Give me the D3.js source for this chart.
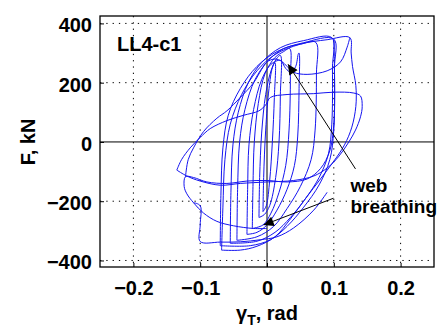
<!DOCTYPE html>
<html>
<head>
<meta charset="utf-8">
<script src="https://cdn.jsdelivr.net/npm/d3@7"></script>
<style>
  body { margin: 0; background: #fff; }
  text { font-family: "Liberation Sans", Arial, sans-serif; }
</style>
</head>
<body>
<svg id="chart" width="441" height="327"></svg>
<script>
// tick values
const xTicks = [-0.2, -0.1, 0, 0.1, 0.2];
const yTicks = [-400, -200, 0, 200, 400];

// hysteresis loops, [gammaT (rad), F (kN)]
const loop1 = [[-0.006,-235],[-0.005,-120],[-0.002,40],[0.003,180],[0.008,250],[0.012,268],[0.011,150],[0.008,0],[0.004,-130],[-0.001,-215],[-0.006,-235]];
const loop2 = [[-0.012,-255],[-0.011,-120],[-0.008,30],[-0.002,160],[0.006,240],[0.014,280],[0.02,292],[0.02,160],[0.018,0],[0.013,-120],[0.004,-215],[-0.004,-245],[-0.012,-255]];
const loop3 = [[-0.022,-292],[-0.021,-150],[-0.019,0],[-0.013,130],[-0.003,230],[0.012,285],[0.025,305],[0.034,315],[0.035,220],[0.033,40],[0.028,-80],[0.018,-170],[0.006,-240],[-0.006,-280],[-0.022,-292]];
const loop4 = [[-0.03,-312],[-0.029,-160],[-0.027,-10],[-0.02,110],[-0.008,210],[0.006,262],[0.02,275],[0.028,248],[0.036,235],[0.043,255],[0.047,298],[0.048,300],[0.048,180],[0.046,20],[0.041,-80],[0.03,-160],[0.015,-230],[0,-280],[-0.015,-305],[-0.03,-312]];
const loop5 = [[-0.045,-332],[-0.044,-160],[-0.041,0],[-0.033,110],[-0.018,210],[0.002,275],[0.025,315],[0.05,330],[0.073,336],[0.074,230],[0.072,40],[0.066,-60],[0.05,-150],[0.03,-225],[0.01,-285],[-0.015,-320],[-0.045,-332]];
const loop6 = [[-0.055,-342],[-0.054,-170],[-0.051,-10],[-0.043,100],[-0.028,200],[-0.008,268],[0.02,318],[0.055,342],[0.097,352],[0.098,250],[0.097,60],[0.092,-40],[0.078,-120],[0.058,-190],[0.035,-255],[0.012,-305],[-0.015,-335],[-0.055,-342]];
const loop7 = [[-0.07,-350],[-0.069,-180],[-0.066,-20],[-0.058,90],[-0.04,180],[-0.015,255],[0.015,305],[0.055,335],[0.1,347],[0.101,250],[0.1,40],[0.094,-60],[0.078,-145],[0.055,-220],[0.03,-285],[0.005,-330],[-0.025,-350],[-0.07,-350]];
const loop8 = [[-0.068,-365],[-0.066,-220],[-0.063,-60],[-0.055,60],[-0.038,160],[-0.015,240],[0.012,295],[0.05,330],[0.09,345],[0.124,352],[0.126,300],[0.128,255],[0.133,190],[0.133,120],[0.127,50],[0.116,-10],[0.1,-65],[0.08,-125],[0.058,-190],[0.035,-260],[0.012,-320],[-0.015,-352],[-0.04,-365],[-0.068,-365]];
const loop9 = [[-0.122,-117],[-0.118,-60],[-0.11,-20],[-0.095,35],[-0.075,80],[-0.06,105],[-0.04,150],[-0.02,200],[-0.008,245],[0,270],[0.012,280],[0.022,272],[0.03,255],[0.04,235],[0.06,228],[0.09,240],[0.11,270],[0.12,320],[0.124,352]];
const loop10 = [[-0.135,-95],[-0.128,-60],[-0.115,-20],[-0.1,15],[-0.085,45],[-0.06,72],[-0.035,90],[-0.012,105],[-0.002,125],[0.005,150],[0.03,160],[0.07,163],[0.1,168],[0.13,165],[0.14,155],[0.1425,120],[0.14,85],[0.1325,40],[0.1225,0],[0.107,-50],[0.09,-88],[0.07,-115],[0.04,-130],[0,-135],[-0.04,-140],[-0.07,-146],[-0.1,-132],[-0.12,-115],[-0.135,-95]];
const loop11 = [[0.1,345],[0.101,250],[0.1,60],[0.094,-30],[0.08,-90],[0.06,-125],[0.03,-135],[0,-130],[-0.03,-132],[-0.06,-140],[-0.09,-135],[-0.11,-120],[-0.122,-117],[-0.124,-150],[-0.12,-175],[-0.11,-205],[-0.095,-240],[-0.075,-268],[-0.05,-283],[-0.02,-292],[0,-292]];
const loop12 = [[-0.11,-205],[-0.1,-215],[-0.1,-280],[-0.1,-336],[-0.07,-338],[-0.04,-337],[-0.01,-330],[0.015,-320],[0.04,-290],[0.07,-230],[0.09,-170]];
const loops = [loop1, loop2, loop3, loop4, loop5, loop6, loop7, loop8, loop9, loop10, loop11, loop12];

// annotation anchors in data units: [from, to]
const arrowTop = [[0.1325, -91], [0.0315, 262]];
const arrowBottom = [[0.0995, -190], [-0.005, -280]];
const noteLines = ["web", "breathing"];
const notePos = [[0.125, -168], [0.125, -239]];
const specimen = "LL4-c1";

const margins = { left: 100, right: 7, top: 16, bottom: 60 };
const svg = d3.select("#chart");
const width = 441 - margins.left - margins.right;
const height = 327 - margins.top - margins.bottom;

const x = d3.scaleLinear().domain([-0.25, 0.25]).range([0, width]);
const y = d3.scaleLinear().domain([-422, 425]).range([height, 0]);

const g = svg.append("g").attr("transform", `translate(${margins.left}, ${margins.top})`);

// dotted grid
g.selectAll(".gx")
  .data(xTicks.filter((d) => d !== 0))
  .join("line")
  .attr("x1", (d) => x(d)).attr("x2", (d) => x(d))
  .attr("y1", 0).attr("y2", height)
  .attr("stroke", "#000").attr("stroke-width", 1).attr("stroke-dasharray", "1.3,5");
g.selectAll(".gy")
  .data(yTicks.filter((d) => d !== 0))
  .join("line")
  .attr("x1", 0).attr("x2", width)
  .attr("y1", (d) => y(d)).attr("y2", (d) => y(d))
  .attr("stroke", "#000").attr("stroke-width", 1).attr("stroke-dasharray", "1.3,5");

// zero lines
g.append("line").attr("x1", x(0)).attr("x2", x(0)).attr("y1", 0).attr("y2", height).attr("stroke", "#000").attr("stroke-width", 1);
g.append("line").attr("x1", 0).attr("x2", width).attr("y1", y(0)).attr("y2", y(0)).attr("stroke", "#000").attr("stroke-width", 1);

// the loops
const line = d3.line()
  .x((d) => x(d[0]))
  .y((d) => y(d[1]))
  .curve(d3.curveCatmullRom.alpha(0.5));

loops.forEach((loop, i) => {
  g.append("path")
    .datum(loop)
    .attr("id", `loop-${i}`)
    .attr("fill", "none")
    .attr("stroke", "#1414f0")
    .attr("stroke-width", 1)
    .attr("d", line);
});

// axes
const xAxis = g.append("g")
  .attr("transform", `translate(0, ${height})`)
  .call(d3.axisBottom(x).tickValues(xTicks).tickSizeInner(-4).tickSizeOuter(0).tickPadding(14).tickFormat((d) => d === 0 ? "0" : d3.format(".1f")(d)));
const yAxis = g.append("g")
  .call(d3.axisLeft(y).tickValues(yTicks).tickSizeInner(-4).tickSizeOuter(0).tickPadding(8));
[xAxis, yAxis].forEach((a) => {
  a.select(".domain").remove();
  a.selectAll(".tick line").attr("stroke", "#000");
  a.selectAll(".tick text")
    .attr("fill", "#000")
    .attr("font-family", "Liberation Sans, Arial, sans-serif")
    .attr("font-size", 20)
    .attr("font-weight", "bold");
});
yAxis.selectAll(".tick text").attr("dy", "0.42em");

// frame
g.append("rect").attr("width", width).attr("height", height).attr("fill", "none").attr("stroke", "#000").attr("stroke-width", 1.3);

// specimen label
g.append("text")
  .attr("x", x(-0.2245)).attr("y", y(308))
  .attr("font-size", 20).attr("font-weight", "bold")
  .text(specimen);

// annotation arrows
svg.append("defs").append("marker")
  .attr("id", "head")
  .attr("viewBox", "0 0 10 10")
  .attr("refX", 10).attr("refY", 5)
  .attr("markerWidth", 13).attr("markerHeight", 10)
  .attr("markerUnits", "userSpaceOnUse")
  .attr("orient", "auto")
  .append("path").attr("d", "M0,0L10,5L0,10z").attr("fill", "#000");

[arrowTop, arrowBottom].forEach((a) => {
  g.append("line")
    .attr("x1", x(a[0][0])).attr("y1", y(a[0][1]))
    .attr("x2", x(a[1][0])).attr("y2", y(a[1][1]))
    .attr("stroke", "#000").attr("stroke-width", 1)
    .attr("marker-end", "url(#head)");
});

g.selectAll(".note")
  .data(noteLines)
  .join("text")
  .attr("x", (d, i) => x(notePos[i][0]))
  .attr("y", (d, i) => y(notePos[i][1]))
  .attr("font-size", 19).attr("font-weight", "bold")
  .text((d) => d);

// axis titles
svg.append("text")
  .attr("transform", `translate(${margins.left - 65}, ${margins.top + y(0)}) rotate(-90)`)
  .attr("text-anchor", "middle")
  .attr("font-size", 20).attr("font-weight", "bold")
  .text("F, kN");

const xt = svg.append("text")
  .attr("x", margins.left + x(0))
  .attr("y", 320)
  .attr("text-anchor", "middle")
  .attr("font-size", 20).attr("font-weight", "bold");
xt.append("tspan").text("γ");
xt.append("tspan").attr("font-size", 14).attr("dy", 5).text("T");
xt.append("tspan").attr("dy", -5).text(", rad");
</script>
</body>
</html>
